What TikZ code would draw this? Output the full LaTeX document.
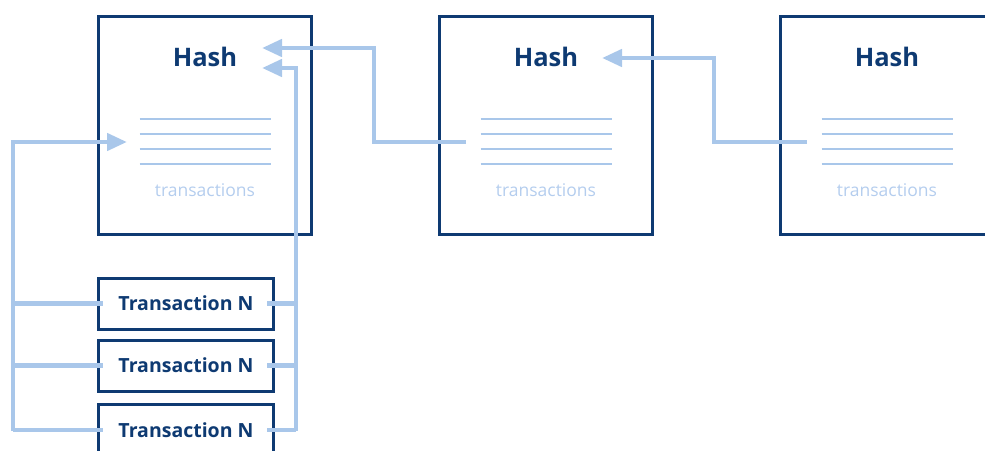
\documentclass[tikz,border=0pt]{standalone}
\usepackage{fontspec}
\setmainfont{Open Sans}
\usetikzlibrary{arrows.meta}
\definecolor{navy}{HTML}{0E3A72}
\definecolor{linkblue}{HTML}{A9C7EA}
\definecolor{txblue}{HTML}{B4CDEE}
\tikzset{
  block/.style={draw=navy, line width=3pt, minimum width=213pt, minimum height=218pt, inner sep=0pt},
  txbox/.style={draw=navy, line width=3pt, minimum width=175pt, minimum height=51pt, inner sep=0pt,
    font=\bfseries\fontsize{19.5}{22}\selectfont, text=navy},
  hashlbl/.style={font=\bfseries\fontsize{25.5}{29}\selectfont, text=navy},
  txlbl/.style={font=\fontsize{17.5}{20}\selectfont, text=txblue},
  listline/.style={linkblue, line width=2pt},
  conn/.style={linkblue, line width=4.5pt},
  arr/.style={conn, -{Triangle[length=20pt, width=17pt]}},
}
\begin{document}
\begin{tikzpicture}[x=1pt, y=-1pt]
\useasboundingbox (0,0) rectangle (985,450);
\clip (0,0) rectangle (985,450);

% blocks of the chain
\node[block] (b1) at (205,125.5) {};
\node[block] (b2) at (546,125.5) {};
\node[block] (b3) at (887,125.5) {};

% block contents: hash on top, transaction list below
\foreach \b in {b1,b2,b3}{
  \node[hashlbl] (\b h) at ([yshift=69pt]\b.center) {Hash};
  \node[txlbl] (\b t) at ([yshift=-64.5pt]\b.center) {transactions};
  \foreach \dy in {7,-8,-23,-38}
    \draw[listline] ([xshift=-65.5pt, yshift=\dy pt]\b.center) -- ([xshift=65.5pt, yshift=\dy pt]\b.center);
}

% individual transactions
\node[txbox] (t1) at (186,303.5) {Transaction N};
\node[txbox] (t2) at (186,365.5) {Transaction N};
\node[txbox] (t3) at (186,430) {Transaction N};

% link points
\coordinate (b1in)  at (127,142);
\coordinate (b1hA)  at (262,48);
\coordinate (b1hB)  at (262,68);
\coordinate (b2out) at (466,142);
\coordinate (b2hA)  at (602,58);
\coordinate (b3out) at (807,142);
\coordinate (lbus)  at (13,431);
\coordinate (rbus)  at (296,431);

% hash links between blocks
\draw[arr] (b2out) -- (374,142) |- (b1hA);
\draw[arr] (b3out) -- (714,142) |- (b2hA);

% transactions feeding the first block
\draw[arr] (lbus) |- (b1in);
\draw[arr] (rbus) |- (b1hB);
\foreach \t in {t1,t2,t3}{
  \draw[conn] (lbus |- \t.west) -- ([xshift=6pt]\t.west);
  \draw[conn] (rbus |- \t.east) -- ([xshift=-8pt]\t.east);
}
\end{tikzpicture}
\end{document}
